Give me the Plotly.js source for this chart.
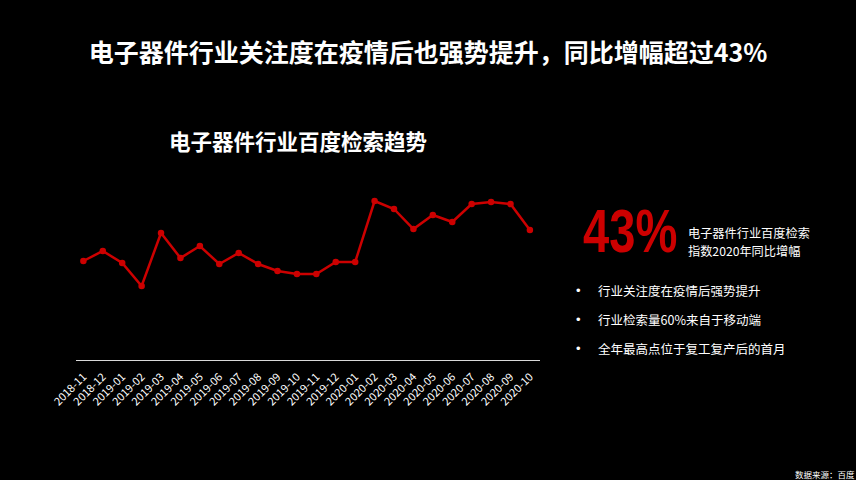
<!DOCTYPE html>
<html>
<head>
<meta charset="utf-8">
<script src="https://cdn.plot.ly/plotly-3.0.1.min.js"></script>
<style>
html,body{margin:0;padding:0;background:#000;}
#chart{width:856px;height:480px;}
</style>
</head>
<body>
<div id="chart"></div>
<script>
const months = ["2018-11","2018-12","2019-01","2019-02","2019-03","2019-04","2019-05","2019-06","2019-07","2019-08","2019-09","2019-10","2019-11","2019-12","2020-01","2020-02","2020-03","2020-04","2020-05","2020-06","2020-07","2020-08","2020-09","2020-10"];
const searchIndex = [99,109,97,74,127,102,114,96,107,96,89,86,86,98,98,159,151,131,145,138,156,158,156,130];

const mainTitle = "电子器件行业关注度在疫情后也强势提升，同比增幅超过43%";
const chartTitle = "电子器件行业百度检索趋势";
const bigNumber = "43%";
const bigNumberNote = ["电子器件行业百度检索", "指数2020年同比增幅"];
const bullets = ["行业关注度在疫情后强势提升","行业检索量60%来自于移动端","全年最高点位于复工复产后的首月"];
const sourceNote = "数据来源：百度";

const W = 856, H = 480;
const px = x => x / W;
const py = y => 1 - y / H;
const FONT = "'Noto Sans CJK SC', 'Noto Sans', sans-serif";
const RED = "#cc0000";

const trace = {
  type: "scatter",
  mode: "lines+markers",
  x: months,
  y: searchIndex,
  line: {color: RED, width: 2.5},
  marker: {color: RED, size: 6.5},
  hoverinfo: "x+y"
};

const annotations = [
  {text: "<b>" + chartTitle + "</b>", x: px(298), y: py(140), xanchor: "center", yanchor: "middle",
   font: {family: FONT, size: 21.5, color: "#fff"}},
  {text: "<b>" + bigNumber + "</b>", x: px(581), y: py(231), xanchor: "left", yanchor: "middle",
   font: {family: "'Liberation Sans', Arial, sans-serif", size: 62, color: RED}},
  {text: sourceNote, x: px(793), y: py(474), xanchor: "left", yanchor: "middle",
   font: {family: FONT, size: 8.5, color: "#fff"}}
];
const noteY = [233, 251];
bigNumberNote.forEach((t, i) => {
  annotations.push({text: t, x: px(687), y: py(noteY[i]), xanchor: "left", yanchor: "middle",
    borderpad: 0, font: {family: FONT, size: 12.2, color: "#fff"}});
});
const bulletY = [290, 319, 348];
bullets.forEach((b, i) => {
  annotations.push({text: "•", x: px(574), y: py(bulletY[i]), xanchor: "left", yanchor: "middle",
    font: {family: "'Liberation Sans', sans-serif", size: 13, color: "#fff"}});
  annotations.push({text: b, x: px(596), y: py(bulletY[i]), xanchor: "left", yanchor: "middle",
    font: {family: FONT, size: 12.5, color: "#fff"}});
});
annotations.forEach(a => { a.xref = "paper"; a.yref = "paper"; a.showarrow = false; });

const layout = {
  width: W, height: H,
  paper_bgcolor: "#000", plot_bgcolor: "#000",
  margin: {l: 0, r: 0, t: 0, b: 0},
  showlegend: false,
  title: {text: "<b>" + mainTitle + "</b>", x: 0.5, xanchor: "center", xref: "container",
    y: py(53), yanchor: "middle", yref: "container",
    font: {family: FONT, size: 25, color: "#fff"}},
  xaxis: {
    domain: [px(76), px(540)],
    type: "category",
    range: [-0.38, 23.52],
    showgrid: false, zeroline: false,
    showline: true, linecolor: "#d9d9d9", linewidth: 1,
    ticks: "", tickangle: -45, ticklabelstandoff: 5,
    tickfont: {family: FONT, size: 11, color: "#ffffff"},
    automargin: false
  },
  yaxis: {
    domain: [1 - 360 / H, 1 - 180 / H],
    range: [0, 180],
    visible: false,
    automargin: false
  },
  annotations: annotations
};

Plotly.newPlot("chart", [trace], layout, {displayModeBar: false, staticPlot: true}).then(gd => {
  // condense the big "43%" horizontally (the reference uses a condensed display face)
  const texts = gd.querySelectorAll(".annotation-text");
  texts.forEach(t => {
    if (t.textContent.trim() === bigNumber) {
      t.style.transformBox = "fill-box";
      t.style.transformOrigin = "0% 50%";
      t.style.transform = "scaleX(0.76)";
    }
  });
});
</script>
</body>
</html>
